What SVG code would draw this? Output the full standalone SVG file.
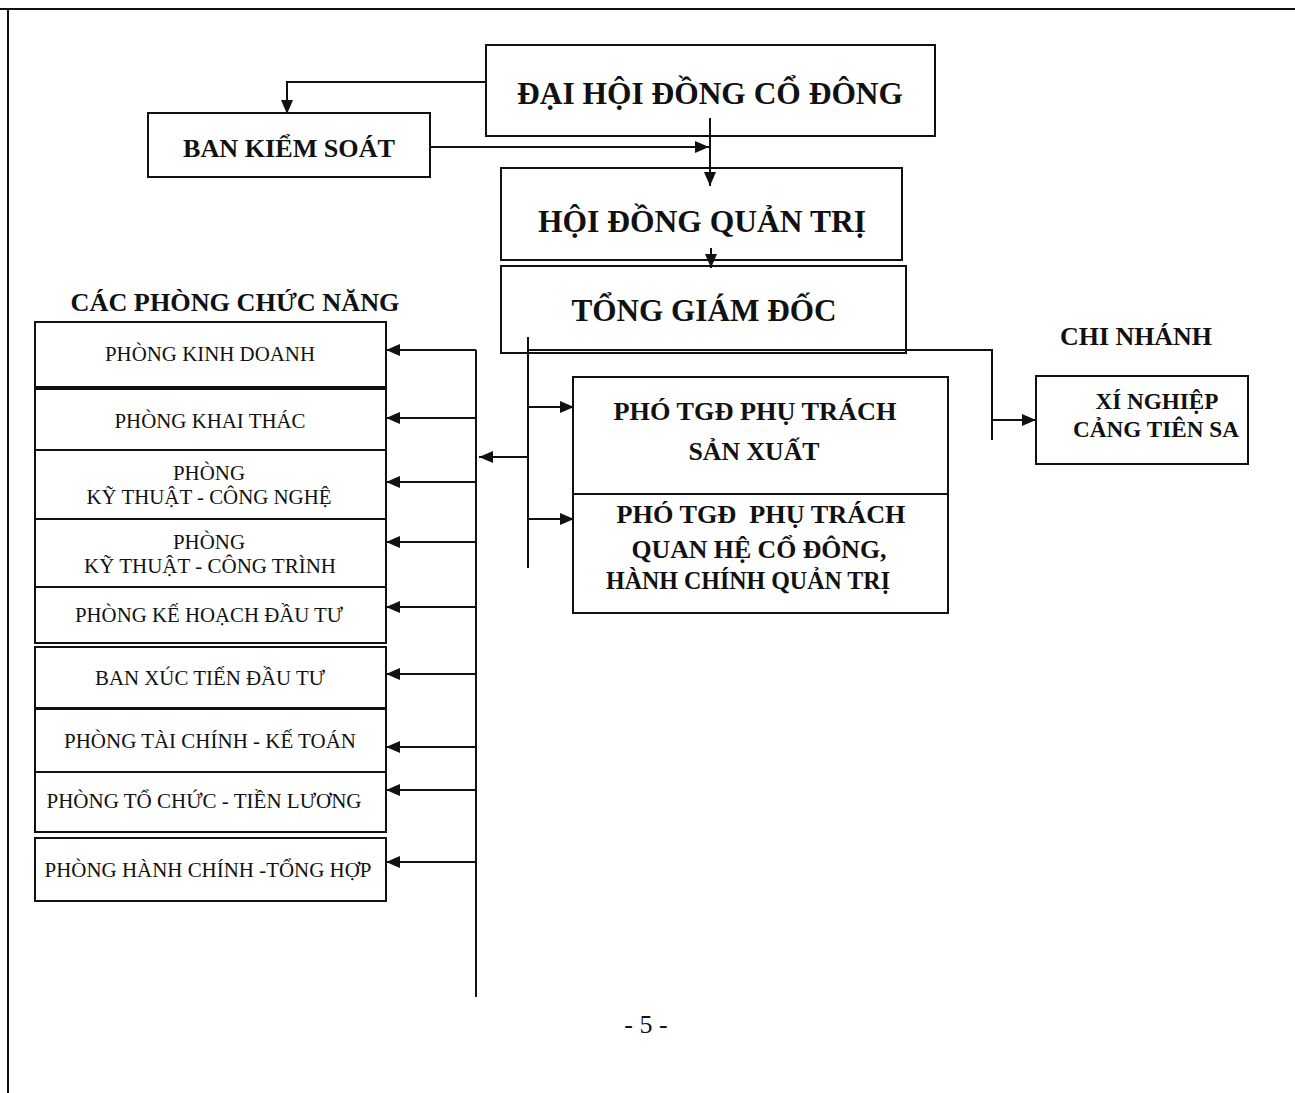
<svg xmlns="http://www.w3.org/2000/svg" width="1295" height="1093" viewBox="0 0 1295 1093">
<defs>
<marker id="ah" viewBox="0 0 14 12" refX="14" refY="6" markerWidth="14" markerHeight="12" markerUnits="userSpaceOnUse" orient="auto"><path d="M0,0 L14,6 L0,12 z" fill="#111"/></marker>
<style>
.box{fill:#fff;stroke:#111;stroke-width:2}
.ln{fill:none;stroke:#111;stroke-width:2}
.b{font-family:"Liberation Serif","Times New Roman",serif;font-weight:bold;fill:#111;text-anchor:middle}
.r{font-family:"Liberation Serif","Times New Roman",serif;fill:#111;text-anchor:middle;font-size:21px}
</style>
</defs>
<rect x="0" y="0" width="1295" height="1093" fill="#fff"/>
<g id="page-border"><path class="ln" d="M0,9 H1295 M8,9 V1093"/></g>

<g id="dhdcd"><rect class="box" x="486" y="45" width="449" height="91"/>
<text class="b" x="710" y="104" font-size="32" textLength="386" lengthAdjust="spacingAndGlyphs">ĐẠI HỘI ĐỒNG CỔ ĐÔNG</text></g>

<g id="bks"><rect class="box" x="148" y="113" width="282" height="64"/>
<text class="b" x="289" y="157" font-size="26" textLength="212" lengthAdjust="spacingAndGlyphs">BAN KIỂM SOÁT</text></g>

<g id="hdqt"><rect class="box" x="501" y="168" width="401" height="92"/>
<text class="b" x="702" y="232" font-size="32" textLength="328" lengthAdjust="spacingAndGlyphs">HỘI ĐỒNG QUẢN TRỊ</text></g>

<g id="tgd"><rect class="box" x="501" y="266" width="405" height="87"/>
<text class="b" x="704" y="321" font-size="32" textLength="265" lengthAdjust="spacingAndGlyphs">TỔNG GIÁM ĐỐC</text></g>

<g id="title-phong"><text class="b" x="235" y="311" font-size="26" textLength="329" lengthAdjust="spacingAndGlyphs">CÁC PHÒNG CHỨC NĂNG</text></g>

<g id="title-chinhanh"><text class="b" x="1136" y="345" font-size="25" textLength="152" lengthAdjust="spacingAndGlyphs">CHI NHÁNH</text></g>

<g id="xinghiep"><rect class="box" x="1036" y="376" width="212" height="88"/>
<text class="b" x="1157" y="409" font-size="23" textLength="123" lengthAdjust="spacingAndGlyphs">XÍ NGHIỆP</text>
<text class="b" x="1156" y="437" font-size="23" textLength="166" lengthAdjust="spacingAndGlyphs">CẢNG TIÊN SA</text></g>

<g id="pho-tgd-sx"><rect class="box" x="573" y="377" width="375" height="117"/>
<text class="b" x="755" y="420" font-size="26" textLength="283" lengthAdjust="spacingAndGlyphs">PHÓ TGĐ PHỤ TRÁCH</text>
<text class="b" x="754" y="460" font-size="26" textLength="131" lengthAdjust="spacingAndGlyphs">SẢN XUẤT</text></g>

<g id="pho-tgd-qh"><rect class="box" x="573" y="494" width="375" height="119"/>
<text class="b" x="761" y="523" font-size="26" textLength="289" lengthAdjust="spacingAndGlyphs" xml:space="preserve">PHÓ TGĐ  PHỤ TRÁCH</text>
<text class="b" x="759" y="558" font-size="26" textLength="255" lengthAdjust="spacingAndGlyphs">QUAN HỆ CỔ ĐÔNG,</text>
<text class="b" x="748" y="589" font-size="26" textLength="284" lengthAdjust="spacingAndGlyphs">HÀNH CHÍNH QUẢN TRỊ</text></g>

<g id="p-kinhdoanh"><rect class="box" x="35" y="322" width="351" height="65"/>
<text class="r" x="210" y="361" textLength="210" lengthAdjust="spacingAndGlyphs">PHÒNG KINH DOANH</text></g>
<g id="p-khaithac"><rect class="box" x="35" y="389" width="351" height="61"/>
<text class="r" x="210" y="428" textLength="191" lengthAdjust="spacingAndGlyphs">PHÒNG KHAI THÁC</text></g>
<g id="p-ktcn"><rect class="box" x="35" y="450" width="351" height="69"/>
<text class="r" x="209" y="480" textLength="72" lengthAdjust="spacingAndGlyphs">PHÒNG</text>
<text class="r" x="209" y="504" textLength="245" lengthAdjust="spacingAndGlyphs">KỸ THUẬT - CÔNG NGHỆ</text></g>
<g id="p-ktct"><rect class="box" x="35" y="519" width="351" height="68"/>
<text class="r" x="209" y="549" textLength="72" lengthAdjust="spacingAndGlyphs">PHÒNG</text>
<text class="r" x="210" y="573" textLength="252" lengthAdjust="spacingAndGlyphs">KỸ THUẬT - CÔNG TRÌNH</text></g>
<g id="p-khdt"><rect class="box" x="35" y="587" width="351" height="56"/>
<text class="r" x="209" y="622" textLength="268" lengthAdjust="spacingAndGlyphs">PHÒNG KẾ HOẠCH ĐẦU TƯ</text></g>
<g id="b-xtdt"><rect class="box" x="35" y="647" width="351" height="61"/>
<text class="r" x="210" y="685" textLength="230" lengthAdjust="spacingAndGlyphs">BAN XÚC TIẾN ĐẦU TƯ</text></g>
<g id="p-tckt"><rect class="box" x="35" y="709" width="351" height="63"/>
<text class="r" x="210" y="748" textLength="292" lengthAdjust="spacingAndGlyphs">PHÒNG TÀI CHÍNH - KẾ TOÁN</text></g>
<g id="p-tctl"><rect class="box" x="35" y="772" width="351" height="60"/>
<text class="r" x="204" y="808" textLength="315" lengthAdjust="spacingAndGlyphs">PHÒNG TỔ CHỨC - TIỀN LƯƠNG</text></g>
<g id="p-hcth"><rect class="box" x="35" y="838" width="351" height="63"/>
<text class="r" x="208" y="877" textLength="327" lengthAdjust="spacingAndGlyphs">PHÒNG HÀNH CHÍNH -TỔNG HỢP</text></g>

<g id="connectors">
<path class="ln" d="M486,82 H287 V114" marker-end="url(#ah)"/>
<path class="ln" d="M430,147 H709" marker-end="url(#ah)"/>
<path class="ln" d="M710,118 V186" marker-end="url(#ah)"/>
<path class="ln" d="M711,248 V268" marker-end="url(#ah)"/>
<path class="ln" d="M528,337 V568"/>
<path class="ln" d="M528,350 H992 V440"/>
<path class="ln" d="M992,420 H1036" marker-end="url(#ah)"/>
<path class="ln" d="M528,407 H574" marker-end="url(#ah)"/>
<path class="ln" d="M528,519 H574" marker-end="url(#ah)"/>
<path class="ln" d="M528,457 H479" marker-end="url(#ah)"/>
<path class="ln" d="M476,350 V997"/>
<path class="ln" d="M476,350 H386" marker-end="url(#ah)"/>
<path class="ln" d="M476,418 H386" marker-end="url(#ah)"/>
<path class="ln" d="M476,482 H386" marker-end="url(#ah)"/>
<path class="ln" d="M476,542 H386" marker-end="url(#ah)"/>
<path class="ln" d="M476,607 H386" marker-end="url(#ah)"/>
<path class="ln" d="M476,674 H386" marker-end="url(#ah)"/>
<path class="ln" d="M476,747 H386" marker-end="url(#ah)"/>
<path class="ln" d="M476,790 H386" marker-end="url(#ah)"/>
<path class="ln" d="M476,862 H386" marker-end="url(#ah)"/>
</g>

<g id="page-number"><text x="646" y="1033" font-family="'Liberation Serif','Times New Roman',serif" font-size="26" text-anchor="middle" fill="#111" xml:space="preserve">- 5 -</text></g>
</svg>
